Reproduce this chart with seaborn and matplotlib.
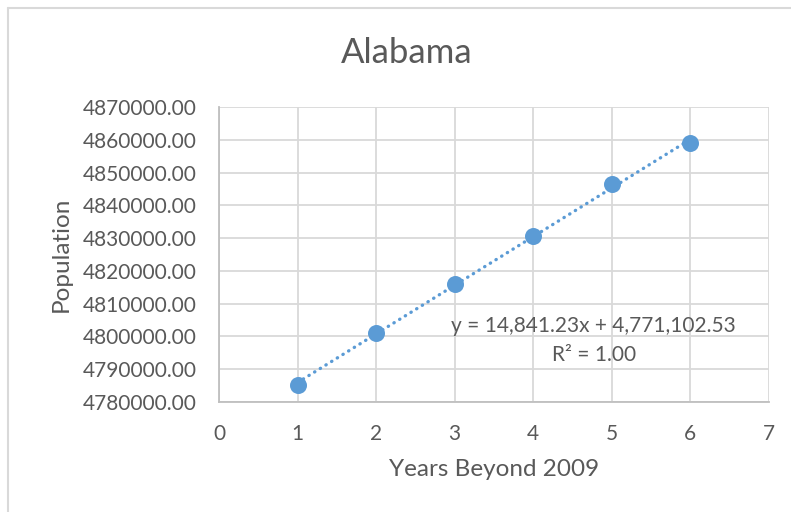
import numpy as np
import pandas as pd
import matplotlib
matplotlib.use("Agg")
import matplotlib.pyplot as plt
import seaborn as sns
from matplotlib.lines import Line2D

# Alabama population estimates, years counted from 2009
years = [1, 2, 3, 4, 5, 6]
population = [4785161, 4801108, 4816089, 4830533, 4846411, 4858979]
y_ticks = [4780000, 4790000, 4800000, 4810000, 4820000, 4830000,
           4840000, 4850000, 4860000, 4870000]
x_ticks = [0, 1, 2, 3, 4, 5, 6, 7]

df = pd.DataFrame({"Years Beyond 2009": years, "Population": population})

# Linear least-squares trend
slope, intercept = np.polyfit(years, population, 1)
fitted = np.polyval([slope, intercept], years)
ss_res = np.sum((np.array(population) - fitted) ** 2)
ss_tot = np.sum((np.array(population) - np.mean(population)) ** 2)
r2 = 1 - ss_res / ss_tot
trend = pd.DataFrame({"x": years, "y": fitted})

sns.set_theme(style="white")
plt.rcParams["font.family"] = ["Lato", "DejaVu Sans"]

text_color = "#595959"
grid_color = "#d9d9d9"
blue = "#5B9BD5"

fig = plt.figure(figsize=(7.91, 5.12), dpi=100)
ax = fig.add_axes([219 / 791, 1 - 402 / 512, (769 - 219) / 791, (402 - 107) / 512])

sns.lineplot(data=trend, x="x", y="y", ax=ax, color=blue, lw=2.4,
             linestyle=(0, (0.1, 1.9)), dash_capstyle="round", zorder=3)
sns.scatterplot(data=df, x="Years Beyond 2009", y="Population", ax=ax,
                s=150, color=blue, edgecolor=blue, linewidth=0, zorder=4)

ax.set_xlim(0, 7)
ax.set_ylim(y_ticks[0], y_ticks[-1])
ax.set_xticks(x_ticks)
ax.set_xticklabels([str(v) for v in x_ticks])
ax.set_yticks(y_ticks)
ax.set_yticklabels([f"{v:.2f}" for v in y_ticks])

ax.grid(True, color=grid_color, lw=1.3)
ax.set_axisbelow(True)
for side in ["top", "right"]:
    ax.spines[side].set_visible(False)
for side in ["left", "bottom"]:
    ax.spines[side].set_color("#bfbfbf")
    ax.spines[side].set_linewidth(1.3)

ax.tick_params(axis="both", length=0, labelsize=15, labelcolor=text_color)
ax.tick_params(axis="y", pad=16)
ax.tick_params(axis="x", pad=16)

ax.set_xlabel("Years Beyond 2009", fontsize=17.5, color=text_color, labelpad=11)
ax.set_ylabel("Population", fontsize=17.5, color=text_color, labelpad=8)
fig.text(0.5144, 1 - 53 / 512, "Alabama", ha="center", va="center",
         fontsize=25, color=text_color)

ax.text(4.77, 4803100,
        f"y = {slope:,.2f}x + {intercept:,.2f}", ha="center", va="center",
        fontsize=15, color=text_color)
ax.text(4.77, 4794400, f"R\u00b2 = {r2:.2f}", ha="center", va="center",
        fontsize=15, color=text_color)

# Chart area outline (top and left edges)
fig.add_artist(Line2D([8 / 791, 1], [1 - 8 / 512, 1 - 8 / 512],
                      transform=fig.transFigure, color=grid_color, lw=1.5))
fig.add_artist(Line2D([8 / 791, 8 / 791], [0, 1 - 8 / 512],
                      transform=fig.transFigure, color=grid_color, lw=1.5))

fig.savefig("out.png", dpi=100, facecolor="white")
